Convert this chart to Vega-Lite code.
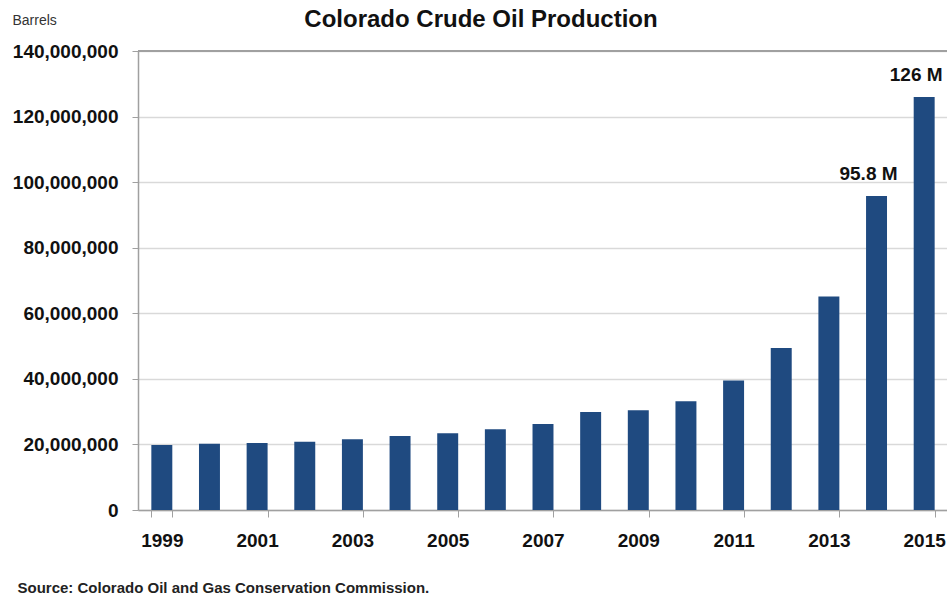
{
  "$schema": "https://vega.github.io/schema/vega-lite/v6.json",
  "width": 810,
  "height": 459,
  "autosize": "none",
  "padding": {"left": 138, "top": 51, "right": 0, "bottom": 84},
  "background": "white",
  "title": {
    "text": "Colorado Crude Oil Production",
    "font": "Liberation Sans",
    "fontSize": 24,
    "fontWeight": "bold",
    "color": "#111111",
    "anchor": "middle",
    "dx": -62,
    "offset": -19
  },
  "config": {
    "view": {"stroke": null},
    "font": "Liberation Sans"
  },
  "data": {
    "values": [
      {"year": "1999", "barrels": 19800000, "label": ""},
      {"year": "2000", "barrels": 20200000, "label": ""},
      {"year": "2001", "barrels": 20400000, "label": ""},
      {"year": "2002", "barrels": 20800000, "label": ""},
      {"year": "2003", "barrels": 21600000, "label": ""},
      {"year": "2004", "barrels": 22600000, "label": ""},
      {"year": "2005", "barrels": 23400000, "label": ""},
      {"year": "2006", "barrels": 24600000, "label": ""},
      {"year": "2007", "barrels": 26200000, "label": ""},
      {"year": "2008", "barrels": 29900000, "label": ""},
      {"year": "2009", "barrels": 30400000, "label": ""},
      {"year": "2010", "barrels": 33200000, "label": ""},
      {"year": "2011", "barrels": 39500000, "label": ""},
      {"year": "2012", "barrels": 49400000, "label": ""},
      {"year": "2013", "barrels": 65100000, "label": ""},
      {"year": "2014", "barrels": 95800000, "label": "95.8 M"},
      {"year": "2015", "barrels": 126000000, "label": "126 M"}
    ]
  },
  "encoding": {
    "x": {
      "field": "year",
      "type": "ordinal",
      "scale": {"paddingInner": 0.56, "paddingOuter": 0.28},
      "axis": {
        "title": "Source: Colorado Oil and Gas Conservation Commission.",
        "titleFont": "Liberation Sans",
        "titleFontSize": 15,
        "titleFontWeight": "bold",
        "titleColor": "#222222",
        "titleAlign": "left",
        "titleAnchor": "start",
        "titleX": -121,
        "titleY": 77,
        "titleBaseline": "middle",
        "values": ["1999", "2001", "2003", "2005", "2007", "2009", "2011", "2013", "2015"],
        "tickBand": "extent",
        "labelAngle": 0,
        "labelFont": "Liberation Sans",
        "labelFontSize": 19,
        "labelFontWeight": "bold",
        "labelColor": "#111111",
        "labelPadding": 14,
        "tickSize": 7,
        "tickColor": "#a0a0a0",
        "domainColor": "#a0a0a0",
        "domainWidth": 1.5,
        "grid": false
      }
    },
    "y": {
      "field": "barrels",
      "type": "quantitative",
      "scale": {"domain": [0, 140000000], "nice": false},
      "axis": {
        "title": "Barrels",
        "titleFont": "Liberation Sans",
        "titleFontSize": 14,
        "titleFontWeight": "normal",
        "titleColor": "#333333",
        "titleAngle": 0,
        "titleAlign": "left",
        "titleBaseline": "middle",
        "titleX": -126,
        "titleY": -31,
        "values": [0, 20000000, 40000000, 60000000, 80000000, 100000000, 120000000, 140000000],
        "format": ",.0f",
        "labelFont": "Liberation Sans",
        "labelFontSize": 19,
        "labelFontWeight": "bold",
        "labelColor": "#111111",
        "labelPadding": 14,
        "tickSize": 6,
        "tickColor": "#a0a0a0",
        "domainColor": "#a0a0a0",
        "domainWidth": 1.5,
        "gridColor": "#d9d9d9",
        "gridWidth": 1.5
      }
    }
  },
  "layer": [
    {
      "mark": {"type": "bar", "color": "#1f4a80"}
    },
    {
      "mark": {"type": "rule", "color": "#a0a0a0", "strokeWidth": 1.5},
      "encoding": {
        "x": {"value": 0},
        "x2": {"value": 810},
        "y": {"value": 0}
      }
    },
    {
      "mark": {
        "type": "text",
        "font": "Liberation Sans",
        "fontSize": 19,
        "fontWeight": "bold",
        "color": "#111111",
        "baseline": "bottom",
        "dy": -12,
        "dx": -8
      },
      "encoding": {
        "text": {"field": "label"}
      }
    }
  ]
}
